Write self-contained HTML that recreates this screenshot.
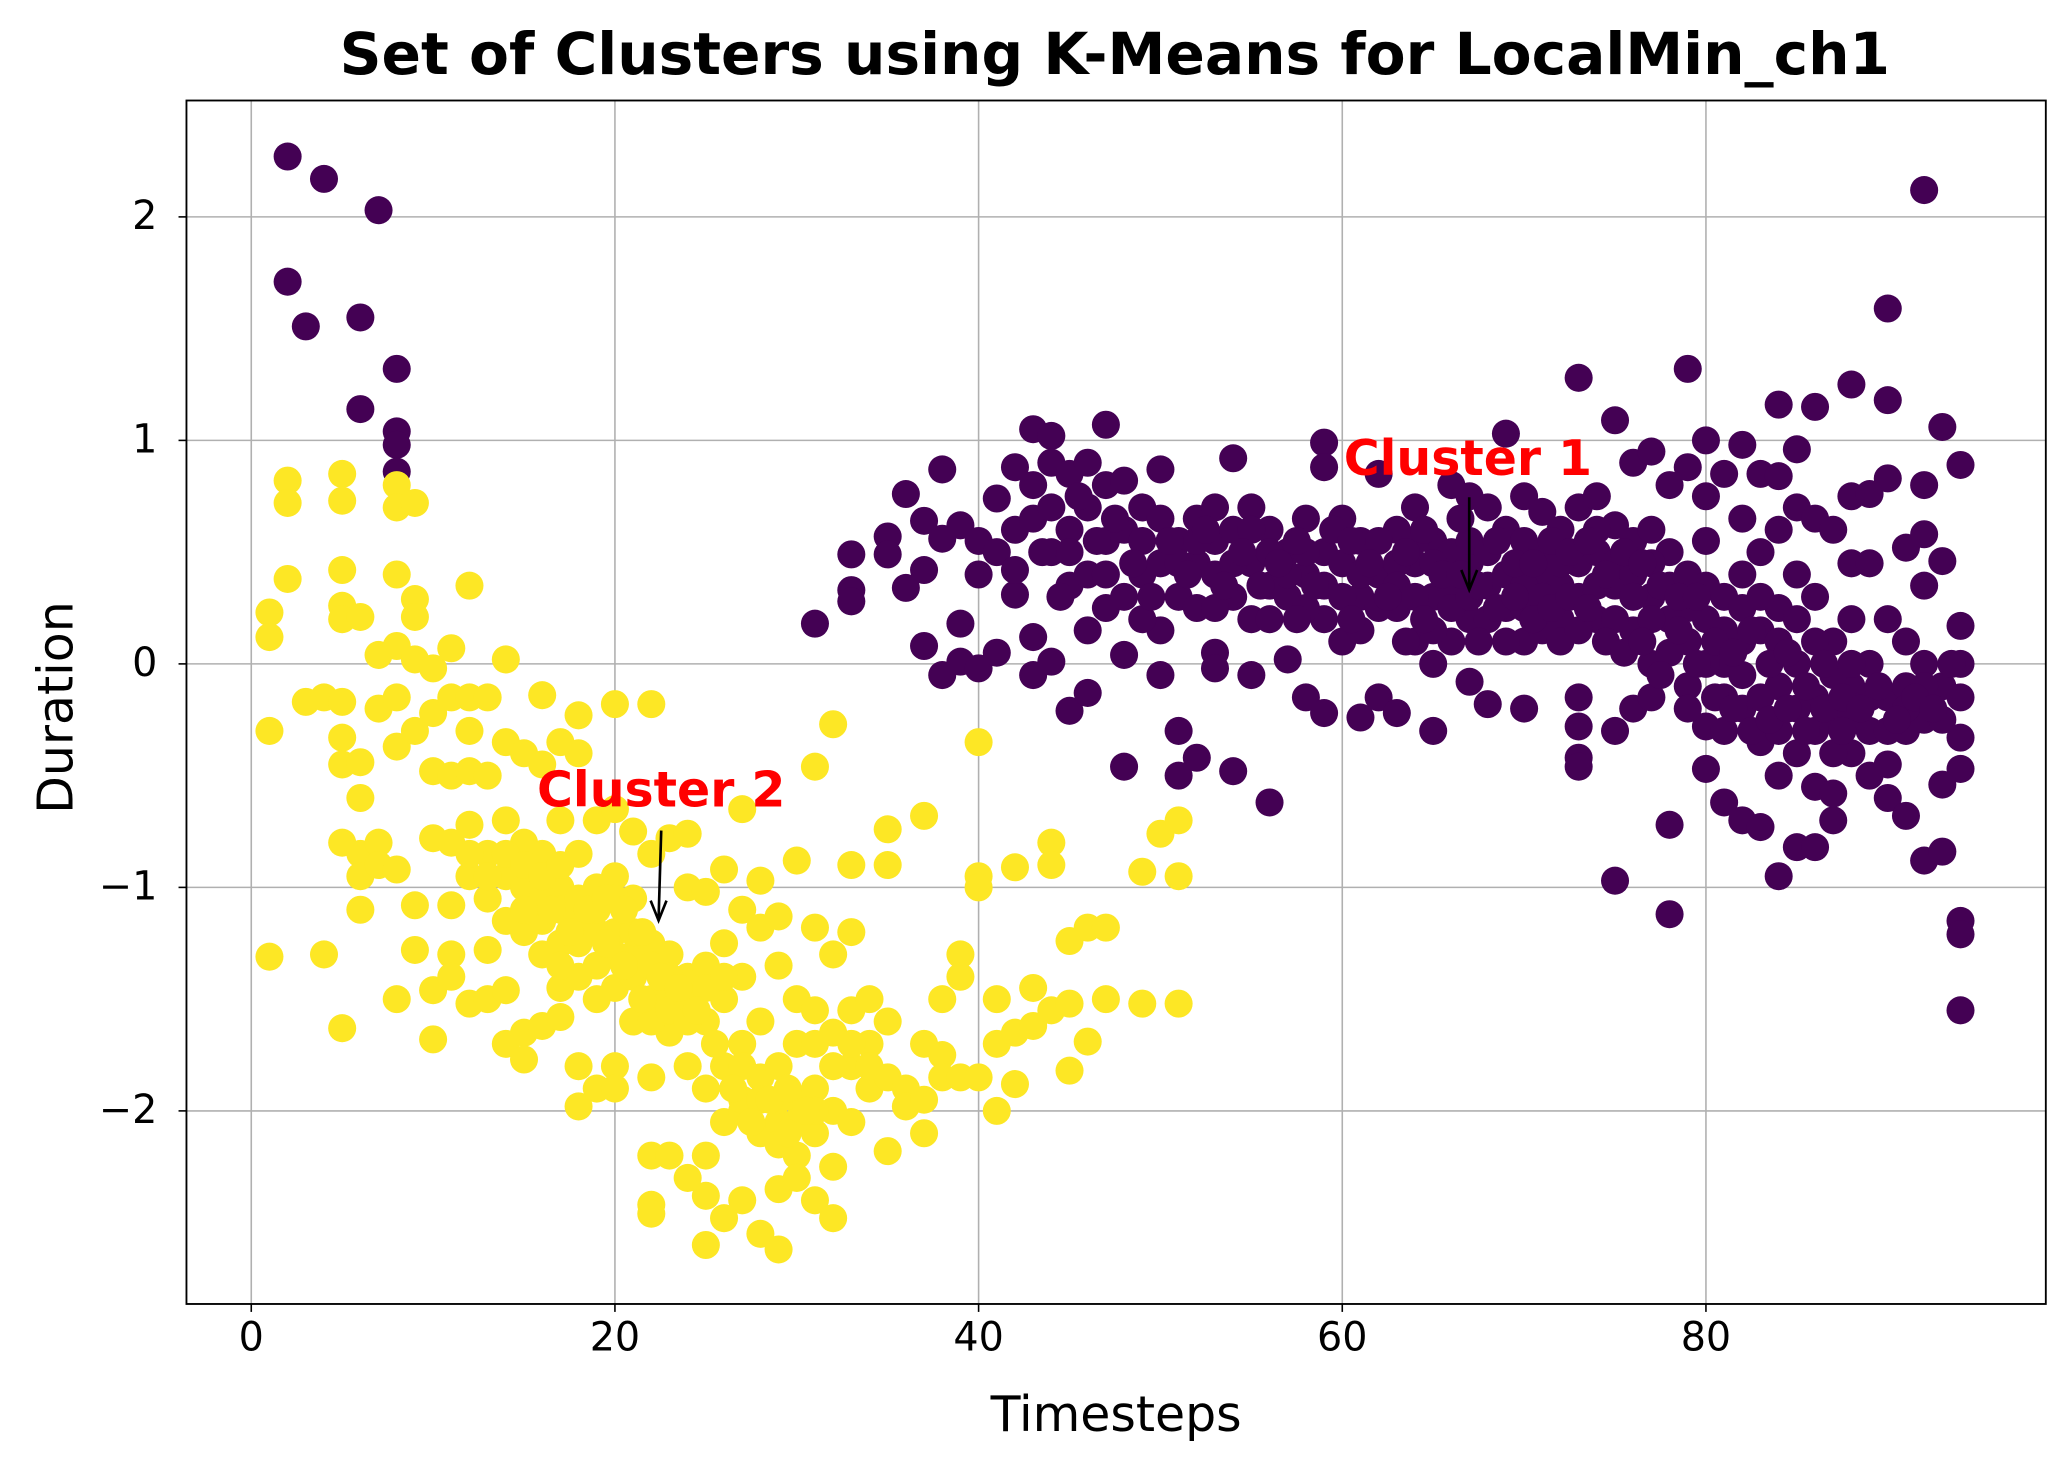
<!DOCTYPE html>
<html><head><meta charset="utf-8"><style>
html,body{margin:0;padding:0;background:#fff;}
svg{display:block;font-family:"DejaVu Sans","Liberation Sans",sans-serif;}
</style></head><body>
<svg id="chart" width="2063" height="1464" viewBox="0 0 1560 1107" preserveAspectRatio="none" xmlns="http://www.w3.org/2000/svg">
<rect width="1560" height="1107" fill="#fff"/>
<g id="grid"></g>
<g id="pts"></g>
<rect x="141" y="76" width="1406" height="910" fill="none" stroke="#000" stroke-width="1.4"/>
<g id="ticks"></g>
<text x="843" y="56" text-anchor="middle" font-size="44" font-weight="bold">Set of Clusters using K-Means for LocalMin_ch1</text>
<text x="844" y="1082" text-anchor="middle" font-size="37">Timesteps</text>
<text transform="translate(55,535) rotate(-90)" text-anchor="middle" font-size="37">Duration</text>
<g>
<text x="1110" y="359" text-anchor="middle" font-size="37" font-weight="bold" fill="#ff0000">Cluster 1</text>
<line x1="1111" y1="376" x2="1111" y2="445" stroke="#000" stroke-width="2"/>
<polyline points="1105,431 1111,446 1117,431" fill="none" stroke="#000" stroke-width="2"/>
</g>
<g>
<text x="500" y="610" text-anchor="middle" font-size="37" font-weight="bold" fill="#ff0000">Cluster 2</text>
<line x1="500" y1="628" x2="498" y2="695" stroke="#000" stroke-width="2"/>
<polyline points="492,681 498,696 504,681" fill="none" stroke="#000" stroke-width="2"/>
</g>
</svg>
<script>
const xTicks=[0,20,40,60,80];
const yTicks=[-2,-1,0,1,2];
const yTickLabels=["\u22122","\u22121","0","1","2"];
const cluster1=[[2,2.27],[4,2.17],[7,2.03],[2,1.71],[3,1.51],[6,1.55],[8,1.32],[6,1.14],[8,1.04],[8,0.98],[8,0.86],
[31,0.18],[33,0.49],[33,0.33],[33,0.28],[35,0.57],[35,0.49],[36,0.76],[36,0.34],[37,0.64],[37,0.42],[37,0.08],[38,0.87],[38,0.56],[38,-0.05],[39,0.62],[39,0.18],[39,0.01],[40,0.55],[40,0.4],[40,-0.02],[41,0.74],[41,0.5],[41,0.05],[42,0.88],[42,0.6],[42,0.31],[42,0.42],[43,1.05],[43,0.8],[43,0.65],[43,0.12],[43,-0.05],[44,1.02],[44,0.9],[44,0.5],[44,0.01],[45,0.85],[45,0.6],[45,0.35],[45,-0.21],[46,0.9],[46,0.7],[46,0.15],[46,-0.13],[47,1.07],[47,0.8],[47,0.55],[47,0.25],[48,0.82],[48,0.6],[48,0.04],[48,-0.46],[49,0.7],[49,0.4],[50,0.87],[50,0.65],[50,0.45],[50,0.15],[50,-0.05],[51,0.55],[51,0.3],[51,-0.3],[51,-0.5],[52,0.65],[52,0.45],[52,0.25],[52,-0.42],[53,0.7],[53,0.55],[53,0.05],[53,-0.02],[54,0.92],[54,0.6],[54,0.3],[54,-0.48],[55,0.7],[55,0.45],[55,0.2],[55,-0.05],[56,0.6],[56,0.35],[56,-0.62],[57,0.5],[57,0.3],[57,0.02],[58,0.65],[58,0.4],[58,-0.15],[59,0.99],[59,0.88],[59,0.5],[59,0.2],[59,-0.22],[60,0.65],[60,0.45],[60,0.1],[61,0.55],[61,0.3],[61,-0.24],[62,0.85],[62,0.4],[62,-0.15],[63,0.6],[63,0.25],[63,-0.22],[64,0.7],[64,0.45],[64,0.1],[65,0.55],[65,0.3],[65,-0.3],[65,0.0],[66,0.8],[66,0.5],[66,0.1],[67,0.75],[67,0.45],[67,0.2],[67,-0.08],[68,0.7],[68,0.35],[68,-0.18],[69,1.03],[69,0.6],[69,0.25],[70,0.75],[70,0.55],[70,0.1],[70,-0.2],[71,0.68],[71,0.4],[71,0.15],[72,0.6],[72,0.35],[72,0.2],[73,1.28],[73,0.7],[73,0.45],[73,-0.15],[73,-0.28],[73,-0.42],[73,-0.46],[74,0.75],[74,0.5],[74,0.2],[75,1.09],[75,0.62],[75,0.35],[75,-0.3],[75,-0.97],[76,0.9],[76,0.55],[76,0.15],[76,-0.2],[77,0.95],[77,0.6],[77,0.3],[77,0.0],[77,-0.15],[78,0.8],[78,0.5],[78,0.2],[78,-0.72],[78,-1.12],[79,1.32],[79,0.88],[79,0.4],[79,0.1],[79,-0.1],[80,1.0],[80,0.75],[80,0.55],[80,0.2],[80,-0.28],[80,-0.47],[81,0.85],[81,0.3],[81,0.0],[81,-0.3],[81,-0.62],[82,0.98],[82,0.65],[82,0.4],[82,0.1],[82,-0.2],[82,-0.7],[83,0.85],[83,0.5],[83,0.15],[83,-0.35],[83,-0.73],[84,1.16],[84,0.84],[84,0.6],[84,0.25],[84,-0.1],[84,-0.5],[84,-0.95],[85,0.96],[85,0.7],[85,0.4],[85,0.0],[85,-0.4],[85,-0.82],[86,1.15],[86,0.65],[86,0.3],[86,-0.15],[86,-0.55],[86,-0.82],[87,0.6],[87,0.1],[87,-0.25],[87,-0.7],[87,-0.58],[88,1.25],[88,0.75],[88,0.45],[88,0.2],[88,-0.1],[88,-0.4],[89,0.76],[89,0.45],[89,0.0],[89,-0.5],[90,1.59],[90,1.18],[90,0.83],[90,0.2],[90,-0.15],[90,-0.45],[90,-0.6],[91,0.52],[91,0.1],[91,-0.3],[91,-0.68],[92,2.12],[92,0.8],[92,0.58],[92,0.35],[92,0.0],[92,-0.25],[92,-0.88],[93,1.06],[93,0.46],[93,-0.1],[93,-0.54],[93,-0.84],[94,0.89],[94,0.17],[94,0.0],[94,-0.15],[94,-0.33],[94,-0.47],[94,-1.15],[94,-1.21],[94,-1.55],
[44,0.7],[45,0.5],[46,0.4],[47,0.4],[48,0.3],[49,0.55],[49,0.2],[51,0.45],[52,0.55],[53,0.4],[53,0.25],[54,0.45],[55,0.6],[56,0.5],[56,0.2],[57,0.4],[58,0.5],[58,0.25],[59,0.35],[60,0.3],[61,0.4],[61,0.15],[62,0.55],[62,0.25],[63,0.45],[63,0.35],[64,0.3],[64,0.55],[65,0.45],[65,0.15],[66,0.35],[66,0.25],[67,0.3],[67,0.55],[68,0.5],[68,0.2],[69,0.4],[69,0.1],[70,0.35],[70,0.25],[71,0.3],[71,0.5],[72,0.45],[72,0.1],[73,0.3],[73,0.15],[74,0.35],[74,0.6],[75,0.45],[75,0.2],[76,0.4],[76,0.3],[77,0.45],[77,0.2],[78,0.35],[78,0.05],[79,0.25],[79,-0.2],[80,0.35],[80,0.0],[81,0.15],[81,-0.15],[82,0.25],[82,-0.05],[83,0.3],[83,-0.15],[84,0.1],[84,-0.3],[85,0.2],[85,-0.2],[86,0.1],[86,-0.3],[87,-0.05],[87,-0.4],[88,0.0],[88,-0.25],[89,-0.15],[89,-0.3],[90,-0.3],[91,-0.1],[91,-0.2],[92,-0.1],[93,-0.25],
[43.5,0.5],[44.5,0.3],[45.5,0.75],[46.5,0.55],[47.5,0.65],[48.5,0.45],[49.5,0.3],[50.5,0.55],[51.5,0.4],[52.5,0.6],[53.5,0.35],[54.5,0.5],[55.5,0.35],[56.5,0.45],[57.5,0.55],[57.5,0.2],[58.5,0.35],[59.5,0.6],[60.5,0.2],[60.5,0.55],[61.5,0.45],[62.5,0.3],[63.5,0.5],[63.5,0.1],[64.5,0.2],[64.5,0.6],[65.5,0.4],[66.5,0.65],[66.5,0.4],[67.5,0.35],[67.5,0.1],[68.5,0.55],[68.5,0.25],[69.5,0.45],[69.5,0.3],[70.5,0.45],[70.5,0.2],[71.5,0.25],[71.5,0.55],[72.5,0.3],[72.5,0.5],[73.5,0.55],[73.5,0.25],[74.5,0.4],[74.5,0.1],[75.5,0.5],[75.5,0.05],[76.5,0.45],[76.5,0.1],[77.5,0.35],[77.5,-0.05],[78.5,0.15],[78.5,0.3],[79.5,0.0],[79.5,0.3],[80.5,0.1],[80.5,-0.15],[81.5,0.05],[81.5,-0.2],[82.5,0.15],[82.5,-0.3],[83.5,0.0],[83.5,-0.25],[84.5,0.05],[84.5,-0.2],[85.5,-0.1],[85.5,-0.3],[86.5,0.0],[86.5,-0.2],[87.5,-0.15],[87.5,-0.3],[88.5,-0.2],[89.5,-0.1],[90.5,-0.25],[91.5,-0.15],[92.5,-0.2],[93.5,0.0]];
const cluster2=[[1,0.23],[1,0.12],[1,-0.3],[1,-1.31],[2,0.82],[2,0.72],[2,0.38],[3,-0.17],[4,-0.15],[4,-1.3],[5,0.85],[5,0.73],[5,0.42],[5,0.26],[5,0.2],[5,-0.17],[5,-0.33],[5,-0.45],[5,-0.8],[5,-1.63],[6,0.21],[6,-0.44],[6,-0.6],[6,-0.85],[6,-0.95],[6,-1.1],[7,0.04],[7,-0.2],[7,-0.8],[7,-0.9],[8,0.8],[8,0.7],[8,0.4],[8,0.08],[8,-0.15],[8,-0.37],[8,-0.92],[8,-1.5],[9,0.72],[9,0.29],[9,0.21],[9,0.02],[9,-0.3],[9,-1.08],[9,-1.28],[10,-0.02],[10,-0.22],[10,-0.48],[10,-0.78],[10,-1.46],[10,-1.68],[11,0.07],[11,-0.15],[11,-0.5],[11,-0.8],[11,-1.08],[11,-1.3],[11,-1.4],[12,0.35],[12,-0.15],[12,-0.3],[12,-0.48],[12,-0.72],[12,-0.95],[12,-1.52],[13,-0.15],[13,-0.5],[13,-0.85],[13,-1.05],[13,-1.28],[13,-1.5],[14,0.02],[14,-0.35],[14,-0.7],[14,-0.95],[14,-1.15],[14,-1.46],[14,-1.7],[15,-0.4],[15,-0.8],[15,-1.0],[15,-1.2],[15,-1.65],[15,-1.77],[16,-0.14],[16,-0.45],[16,-0.85],[16,-1.15],[16,-1.3],[16,-1.62],[17,-0.35],[17,-0.7],[17,-1.0],[17,-1.25],[17,-1.45],[17,-1.58],[18,-0.23],[18,-0.4],[18,-0.85],[18,-1.15],[18,-1.4],[18,-1.8],[18,-1.98],[19,-0.7],[19,-1.0],[19,-1.2],[19,-1.35],[19,-1.9],[20,-0.18],[20,-0.65],[20,-0.95],[20,-1.2],[20,-1.45],[20,-1.8],[20,-1.9],[21,-0.75],[21,-1.05],[21,-1.3],[21,-1.6],[22,-0.18],[22,-0.85],[22,-1.25],[22,-1.5],[22,-1.85],[22,-2.2],[22,-2.42],[22,-2.46],[23,-0.78],[23,-1.3],[23,-1.5],[23,-1.65],[23,-2.2],[24,-0.76],[24,-1.0],[24,-1.4],[24,-1.8],[24,-2.3],[25,-1.02],[25,-1.35],[25,-1.6],[25,-1.9],[25,-2.2],[25,-2.38],[25,-2.6],[26,-0.92],[26,-1.25],[26,-1.5],[26,-1.8],[26,-2.05],[26,-2.48],[27,-0.65],[27,-1.1],[27,-1.4],[27,-1.7],[27,-2.0],[27,-2.4],[28,-0.97],[28,-1.18],[28,-1.6],[28,-1.85],[28,-2.1],[28,-2.55],[29,-1.13],[29,-1.35],[29,-1.8],[29,-2.05],[29,-2.35],[29,-2.62],[30,-0.88],[30,-1.5],[30,-1.7],[30,-1.95],[30,-2.2],[31,-0.46],[31,-1.18],[31,-1.55],[31,-1.9],[31,-2.1],[31,-2.4],[32,-0.27],[32,-1.3],[32,-1.65],[32,-2.0],[32,-2.25],[32,-2.48],[33,-0.9],[33,-1.2],[33,-1.55],[33,-1.8],[33,-2.05],[34,-1.5],[34,-1.7],[34,-1.9],[35,-0.74],[35,-0.9],[35,-1.6],[35,-1.85],[35,-2.18],[36,-1.9],[36,-1.98],[37,-0.68],[37,-1.7],[37,-1.95],[37,-2.1],[38,-1.5],[38,-1.75],[38,-1.85],[39,-1.3],[39,-1.4],[39,-1.85],[40,-0.35],[40,-0.95],[40,-1.0],[40,-1.85],[41,-1.5],[41,-1.7],[41,-2.0],[42,-0.91],[42,-1.65],[42,-1.88],[43,-1.45],[43,-1.62],[44,-0.8],[44,-0.9],[44,-1.55],[45,-1.24],[45,-1.52],[45,-1.82],[46,-1.18],[46,-1.69],[47,-1.18],[47,-1.5],[49,-0.93],[49,-1.52],[50,-0.76],[51,-0.7],[51,-0.95],[51,-1.52],
[16,-1.05],[17,-1.1],[18,-1.05],[18,-1.25],[19,-1.1],[19,-1.5],[20,-1.05],[20,-1.3],[21,-1.2],[21,-1.4],[22,-1.35],[22,-1.6],[23,-1.4],[23,-1.55],[24,-1.5],[24,-1.6],[25,-1.45],[26,-1.4],[27,-1.8],[27,-1.95],[28,-1.95],[29,-1.95],[29,-2.15],[30,-2.05],[30,-2.3],[31,-2.0],[31,-1.7],[32,-1.8],[33,-1.7],[34,-1.8],[14,-0.85],[13,-0.95],[15,-0.9],[16,-0.95],[17,-0.9],[12,-0.85],[15,-1.1],[17,-1.35],
[18.5,-1.1],[19.5,-1.25],[20.5,-1.35],[21.5,-1.5],[22.5,-1.4],[23.5,-1.45],[24.5,-1.55],[21.5,-1.2],[20.5,-1.1],[19.5,-1.05],[17.5,-1.2],[16.5,-1.1],[28.5,-1.95],[29.5,-2.1],[30.5,-2.0],[29.5,-1.9],[27.5,-2.05],[26.5,-1.9],[25.5,-1.7]];
const NS='http://www.w3.org/2000/svg';
const L=141,R=1547,T=76,B=986;
function xs(v){return 190+v*13.75;}
function ys(v){return 502-v*169;}
const grid=document.getElementById('grid'),ticks=document.getElementById('ticks'),pts=document.getElementById('pts');
xTicks.forEach(t=>{
 const g=document.createElementNS(NS,'line');
 
 
 g.setAttribute('x1',xs(t));g.setAttribute('x2',xs(t));g.setAttribute('y1',T);g.setAttribute('y2',B);
 g.setAttribute('stroke','#b0b0b0');g.setAttribute('stroke-width','1.2');grid.appendChild(g);
 const tk=document.createElementNS(NS,'line');
 
 
 tk.setAttribute('x1',xs(t));tk.setAttribute('x2',xs(t));tk.setAttribute('y1',B);tk.setAttribute('y2',B+6);
 tk.setAttribute('stroke','#000');tk.setAttribute('stroke-width','1.2');ticks.appendChild(tk);
 const tx=document.createElementNS(NS,'text');
 
 
 tx.setAttribute('x',xs(t));tx.setAttribute('y',B+35);tx.setAttribute('text-anchor','middle');tx.setAttribute('font-size','30');
 tx.textContent=String(t);ticks.appendChild(tx);
});
yTicks.forEach((t,i)=>{
 const g=document.createElementNS(NS,'line');
 
 
 g.setAttribute('x1',L);g.setAttribute('x2',R);g.setAttribute('y1',ys(t));g.setAttribute('y2',ys(t));
 g.setAttribute('stroke','#b0b0b0');g.setAttribute('stroke-width','1.2');grid.appendChild(g);
 const tk=document.createElementNS(NS,'line');
 
 
 tk.setAttribute('x1',L-6);tk.setAttribute('x2',L);tk.setAttribute('y1',ys(t));tk.setAttribute('y2',ys(t));
 tk.setAttribute('stroke','#000');tk.setAttribute('stroke-width','1.2');ticks.appendChild(tk);
 const tx=document.createElementNS(NS,'text');
 
 
 tx.setAttribute('x',L-22);tx.setAttribute('y',ys(t)+9);tx.setAttribute('text-anchor','end');tx.setAttribute('font-size','30');
 tx.textContent=yTickLabels[i];ticks.appendChild(tx);
});
function draw(arr,color,name){
 arr.forEach(p=>{
  const c=document.createElementNS(NS,'circle');
  
  
  c.setAttribute('cx',xs(p[0]));c.setAttribute('cy',ys(p[1]));c.setAttribute('r','10.6');c.setAttribute('fill',color);
  pts.appendChild(c);
 });
}
draw(cluster1,'#440154','cluster-1-point');
draw(cluster2,'#fde725','cluster-2-point');
</script>
</body></html>
